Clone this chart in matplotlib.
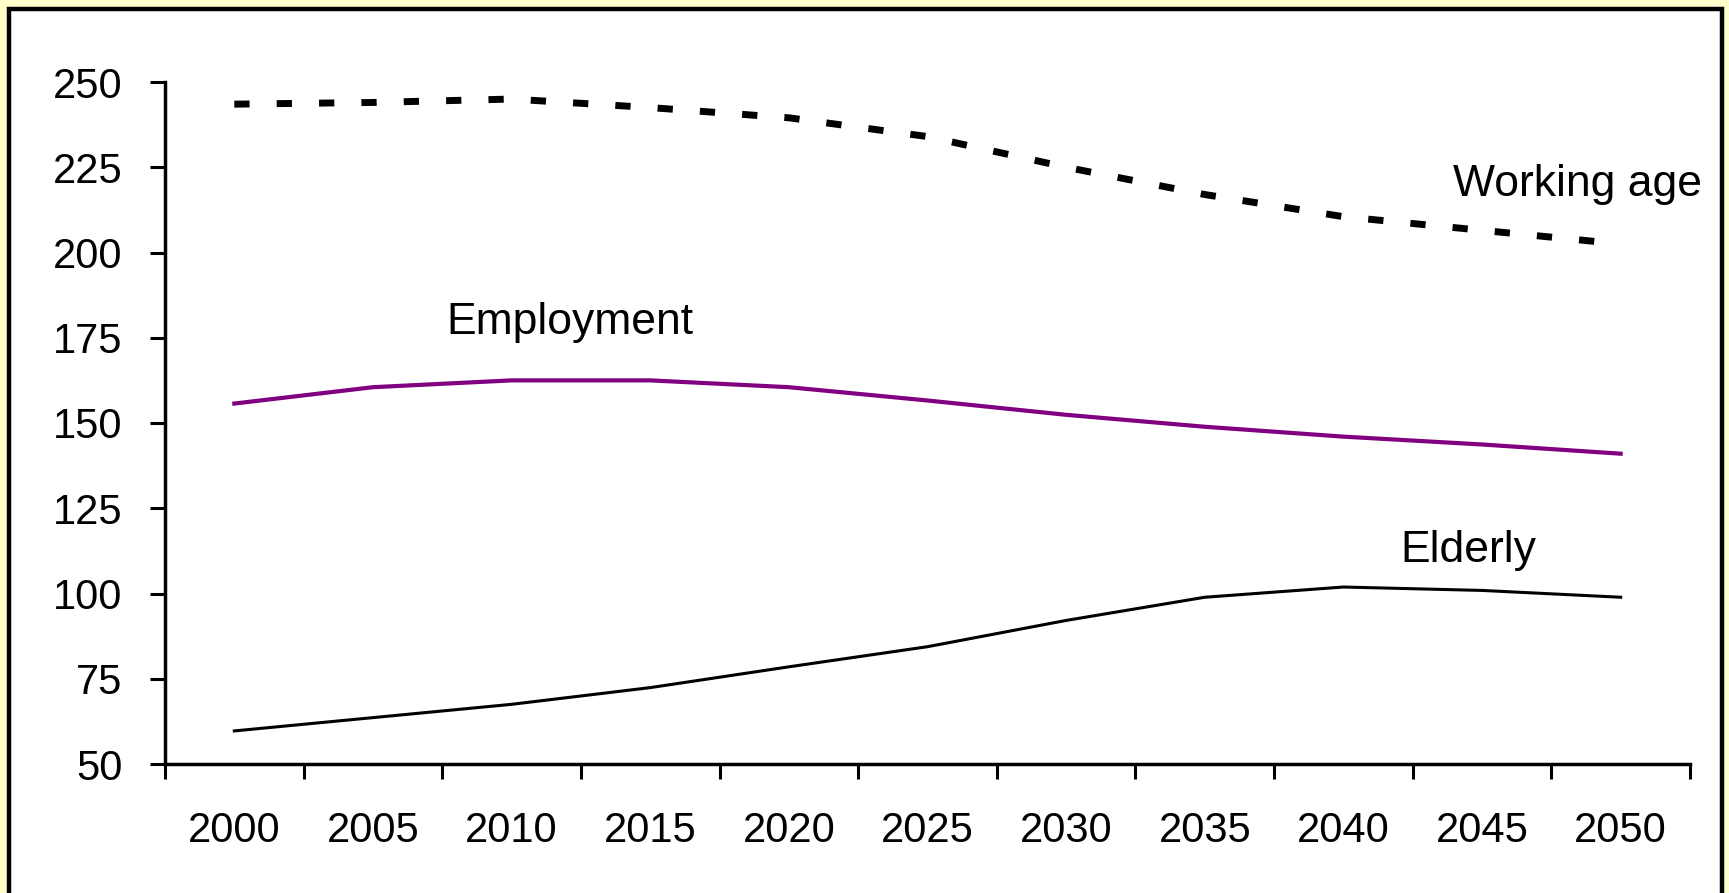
import matplotlib
matplotlib.use("Agg")
import matplotlib.pyplot as plt
from matplotlib.patches import Rectangle

years = ["2000", "2005", "2010", "2015", "2020", "2025", "2030", "2035", "2040", "2045", "2050"]
working_age = [243.5, 244, 245, 242.5, 239.5, 234, 225, 217, 210.5, 206.5, 202.5]
employment = [155.7, 160.5, 162.5, 162.5, 160.5, 156.6, 152.4, 148.9, 146, 143.7, 141]
elderly = [59.7, 63.6, 67.5, 72.4, 78.5, 84.4, 92.1, 98.9, 101.9, 100.9, 98.9]

plt.rcParams['font.family'] = ['Liberation Sans', 'DejaVu Sans']

W, H = 1729, 893
fig = plt.figure(figsize=(W / 100, H / 100), dpi=100)
fig.patch.set_facecolor("#FFFFCC")

# white panel with black frame (bottom edge is cut off in the original)
fig.patches.append(Rectangle((9 / W, -20 / H), (1722 - 9) / W, (893 + 20 - 9) / H,
                             transform=fig.transFigure, facecolor="white",
                             edgecolor="black", linewidth=3.2, zorder=-10))

ax = fig.add_axes([165 / W, 1 - 764 / H, (1690 - 165) / W, (764 - 82) / H])
ax.set_facecolor("none")

x = list(range(len(years)))
ax.plot(x, working_age, color="black", linewidth=5, dashes=(2.2, 3.9), solid_capstyle="butt")
ax.plot(x, employment, color="#800080", linewidth=3)
ax.plot(x, elderly, color="black", linewidth=2.2)

ax.set_xlim(-0.5, len(years) - 0.5)
ax.set_ylim(50, 250)
ax.set_yticks(range(50, 251, 25))

# category axis: tick marks between categories, labels at centres
ax.set_xticks([i - 0.5 for i in range(len(years) + 1)])
ax.set_xticklabels([])
ax.set_xticks(x, minor=True)
ax.set_xticklabels(years, minor=True)
ax.tick_params(axis="x", which="minor", length=0, pad=34, labelsize=30)
ax.tick_params(axis="x", which="major", length=10.5, width=2.2, direction="out")
ax.tick_params(axis="y", length=10.5, width=2.2, direction="out", pad=20, labelsize=30)

for s in ["top", "right"]:
    ax.spines[s].set_visible(False)
for s in ["left", "bottom"]:
    ax.spines[s].set_linewidth(2.5)

ax.text(8.79, 220, "Working age", fontsize=32, ha="left", va="center")
ax.text(1.53, 179.6, "Employment", fontsize=32, ha="left", va="center")
ax.text(8.41, 112.5, "Elderly", fontsize=32, ha="left", va="center")

fig.savefig("out.png", dpi=100, facecolor=fig.get_facecolor())
